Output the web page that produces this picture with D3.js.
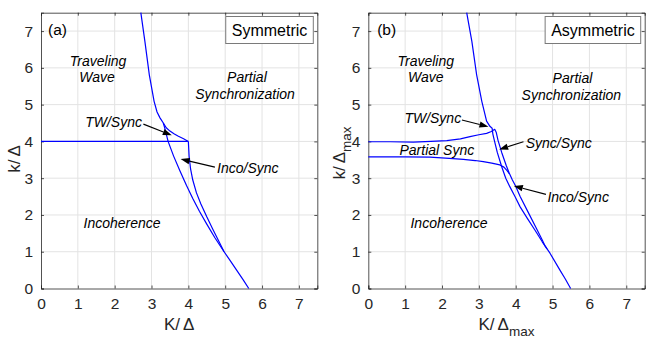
<!DOCTYPE html>
<html><head><meta charset="utf-8">
<script src="https://cdn.jsdelivr.net/npm/d3@7"></script>
<style>body{margin:0;background:#fff}svg{display:block}text{font-family:"Liberation Sans",Arial,sans-serif}</style>
</head><body>
<svg id="chart" width="664" height="342"></svg>
<script>
// ---- data ----
const xTicks = [0,1,2,3,4,5,6,7];
const yTicks = [0,1,2,3,4,5,6,7];

// Panel (a) symmetric curves [K/Δ, k/Δ]
const symTW = [[2.71,7.5],[2.82,6.72],[2.94,5.81],[3.07,5.09],[3.15,4.8],[3.23,4.64],[3.32,4.5],[3.36,4.36],[3.45,4.0],[3.6,3.6],[3.77,3.2],[3.95,2.8],[4.12,2.45],[4.3,2.1],[4.5,1.75],[4.72,1.38],[4.97,1.0],[5.14,0.75],[5.31,0.5],[5.48,0.25],[5.64,0]];
const symTWSync = [[3.32,4.5],[3.4,4.37],[3.5,4.28],[3.62,4.2],[3.73,4.14],[3.87,4.07],[4.0,4.0]];
const symHoriz = [[0,4.0],[4.0,4.0]];
const symIncoSync = [[4.0,4.0],[4.02,3.6],[4.06,3.25],[4.12,2.95],[4.22,2.6],[4.34,2.3],[4.5,1.95],[4.66,1.62],[4.82,1.3],[4.97,1.0]];

// Panel (b) asymmetric curves [K/Δmax, k/Δmax]
const asymTW = [[2.67,7.5],[2.81,6.72],[2.94,5.81],[3.08,5.09],[3.21,4.55],[3.30,4.41],[3.36,4.36],[3.38,4.2],[3.42,4.03],[3.5,3.7],[3.62,3.31],[3.73,3.0],[3.84,2.77],[3.98,2.5],[4.12,2.22],[4.32,1.9],[4.52,1.59],[4.72,1.27],[4.93,0.96],[5.2,0.5],[5.35,0.25],[5.49,0]];
const asymUpper = [[0,3.99],[0.6,3.99],[1.22,3.98],[1.7,4.0],[2.13,4.02],[2.5,4.07],[2.76,4.13],[3.0,4.18],[3.21,4.22],[3.34,4.27],[3.43,4.33],[3.47,4.25],[3.52,4.03],[3.62,3.7],[3.74,3.35],[3.82,3.15],[3.91,2.95],[4.0,2.78],[4.12,2.5],[4.35,2.05],[4.57,1.62],[4.72,1.32],[4.8,1.15],[4.85,1.08]];
const asymLower = [[0,3.58],[1.0,3.58],[1.67,3.57],[2.2,3.54],[2.58,3.51],[2.9,3.48],[3.12,3.45],[3.35,3.41],[3.57,3.36],[3.68,3.3],[3.76,3.21],[3.83,3.12]];

// labels [text, K, k, anchor]
const symLabels = [["Traveling",1.55,6.19,"middle"],["Wave",1.52,5.75,"middle"],["Partial",5.59,5.75,"middle"],["Synchronization",5.54,5.29,"middle"],["TW/Sync",2.74,4.53,"end"],["Inco/Sync",4.78,3.28,"start"],["Incoherence",2.2,1.78,"middle"]];
const asymLabels = [["Traveling",1.56,6.19,"middle"],["Wave",1.56,5.75,"middle"],["Partial",5.54,5.72,"middle"],["Synchronization",5.51,5.26,"middle"],["TW/Sync",2.52,4.63,"end"],["Partial Sync",1.86,3.77,"middle"],["Sync/Sync",4.27,3.97,"start"],["Inco/Sync",4.86,2.49,"start"],["Incoherence",2.19,1.78,"middle"]];
// arrows [tailK, tailk, tipK, tipk]
const symArrows = [[2.78,4.47,3.55,4.17],[4.72,3.30,3.79,3.52]];
const asymArrows = [[2.54,4.58,3.26,4.40],[4.21,3.99,3.55,3.78],[4.82,2.56,3.95,2.79]];

const svg = d3.select("#chart");

function panel(opt){
  const x = d3.scaleLinear().domain([0,7.5]).range([opt.x0, opt.x1]);
  const y = d3.scaleLinear().domain([0,7.5]).range([288.5, 12.7]);
  const g = svg.append("g");
  // grid
  g.append("g").selectAll("line").data(xTicks.filter(d=>d>0)).join("line")
    .attr("x1",d=>x(d)).attr("x2",d=>x(d)).attr("y1",y(0)).attr("y2",y(7.5))
    .attr("stroke","#e3e3e3").attr("stroke-width",1);
  g.append("g").selectAll("line").data(yTicks.filter(d=>d>0)).join("line")
    .attr("x1",x(0)).attr("x2",x(7.5)).attr("y1",d=>y(d)).attr("y2",d=>y(d))
    .attr("stroke","#e3e3e3").attr("stroke-width",1);
  // axes
  const ax = d3.axisBottom(x).tickValues(xTicks).tickSize(-3).tickPadding(9).tickFormat(d3.format("d"));
  const ay = d3.axisLeft(y).tickValues(yTicks).tickSize(-3).tickPadding(8).tickFormat(d3.format("d"));
  const axT = d3.axisTop(x).tickValues(xTicks).tickSize(-3).tickFormat("");
  const ayR = d3.axisRight(y).tickValues(yTicks).tickSize(-3).tickFormat("");
  const styleAx = s => { s.selectAll("path").attr("stroke","#262626").attr("stroke-width",0.8);
    s.selectAll("line").attr("stroke","#262626").attr("stroke-width",0.8);
    s.selectAll("text").attr("fill","#262626").style("font-size","15.5px").style("font-family","'Liberation Sans',Arial,sans-serif"); };
  g.append("g").attr("transform",`translate(0,${y(0)})`).call(ax).call(styleAx);
  g.append("g").attr("transform",`translate(${x(0)},0)`).call(ay).call(styleAx);
  g.append("g").attr("transform",`translate(0,${y(7.5)})`).call(axT).call(styleAx);
  g.append("g").attr("transform",`translate(${x(7.5)},0)`).call(ayR).call(styleAx);
  // curves
  const lineX = d3.line().x(d=>x(d[0])).y(d=>y(d[1])).curve(d3.curveLinear);
  opt.curves.forEach(c=>{
    g.append("path").attr("d", lineX(c)).attr("fill","none").attr("stroke","#0000ff").attr("stroke-width",1.2).attr("stroke-linejoin","round");
  });
  // labels
  opt.labels.forEach(l=>{
    g.append("text").attr("x",x(l[1])).attr("y",y(l[2])).attr("text-anchor",l[3])
      .attr("dominant-baseline","central").style("font-style","italic").style("font-size","14px").attr("fill","#000").text(l[0]);
  });
  // arrows
  opt.arrows.forEach(a=>{
    const x1=x(a[0]),y1=y(a[1]),x2=x(a[2]),y2=y(a[3]);
    const ang=Math.atan2(y2-y1,x2-x1), L=9, W=3.2;
    const bx=x2-L*Math.cos(ang), by=y2-L*Math.sin(ang);
    g.append("line").attr("x1",x1).attr("y1",y1).attr("x2",bx).attr("y2",by).attr("stroke","#000").attr("stroke-width",1.1);
    const p=[[x2,y2],[bx+W*Math.sin(ang),by-W*Math.cos(ang)],[bx-W*Math.sin(ang),by+W*Math.cos(ang)]];
    g.append("polygon").attr("points",p.map(q=>q.join(",")).join(" ")).attr("fill","#000");
  });
  // panel tag
  g.append("text").attr("x",x(opt.tagK)).attr("y",y(7.03)).attr("dominant-baseline","central")
    .style("font-size","15.5px").attr("fill","#000").text(opt.tag);
  // legend box
  const rect = g.append("rect");
  const lt = g.append("text").attr("text-anchor","end").attr("dominant-baseline","central")
    .attr("x", x(7.5)-10).attr("y", 30).style("font-size","16px").attr("fill","#000").text(opt.title);
  const bb = lt.node().getBBox();
  rect.attr("x", bb.x-6).attr("y",16.5).attr("width",bb.width+12).attr("height",27)
    .attr("fill","#fff").attr("stroke","#7a7a7a").attr("stroke-width",1);
  // x label
  const xl = g.append("text").attr("x",(opt.x0+opt.x1)/2).attr("y",330).attr("text-anchor","middle")
    .style("font-size","17px").attr("fill","#262626");
  xl.append("tspan").text("K/");
  xl.append("tspan").attr("dx",3).text("Δ");
  if(opt.sub){ xl.append("tspan").attr("dy",6).style("font-size","13.5px").text(opt.sub); }
  // y label
  const yl = g.append("text").attr("transform",`translate(${opt.yLabX},${opt.yLabY}) rotate(-90)`)
    .attr("text-anchor","middle").style("font-size","17px").attr("fill","#262626");
  yl.append("tspan").text("k/");
  yl.append("tspan").attr("dx",3).text("Δ");
  if(opt.sub){ yl.append("tspan").attr("dy",6).style("font-size","13.5px").text(opt.sub); }
}

panel({x0:41, x1:317.3, curves:[symTW,symTWSync,symHoriz,symIncoSync], labels:symLabels, arrows:symArrows,
  tag:"(a)", tagK:0.19, title:"Symmetric", sub:null, yLabX:20, yLabY:159});
panel({x0:368.3, x1:644.7, curves:[asymTW,asymUpper,asymLower], labels:asymLabels, arrows:asymArrows,
  tag:"(b)", tagK:0.24, title:"Asymmetric", sub:"max", yLabX:345, yLabY:153});
</script>
</body></html>
